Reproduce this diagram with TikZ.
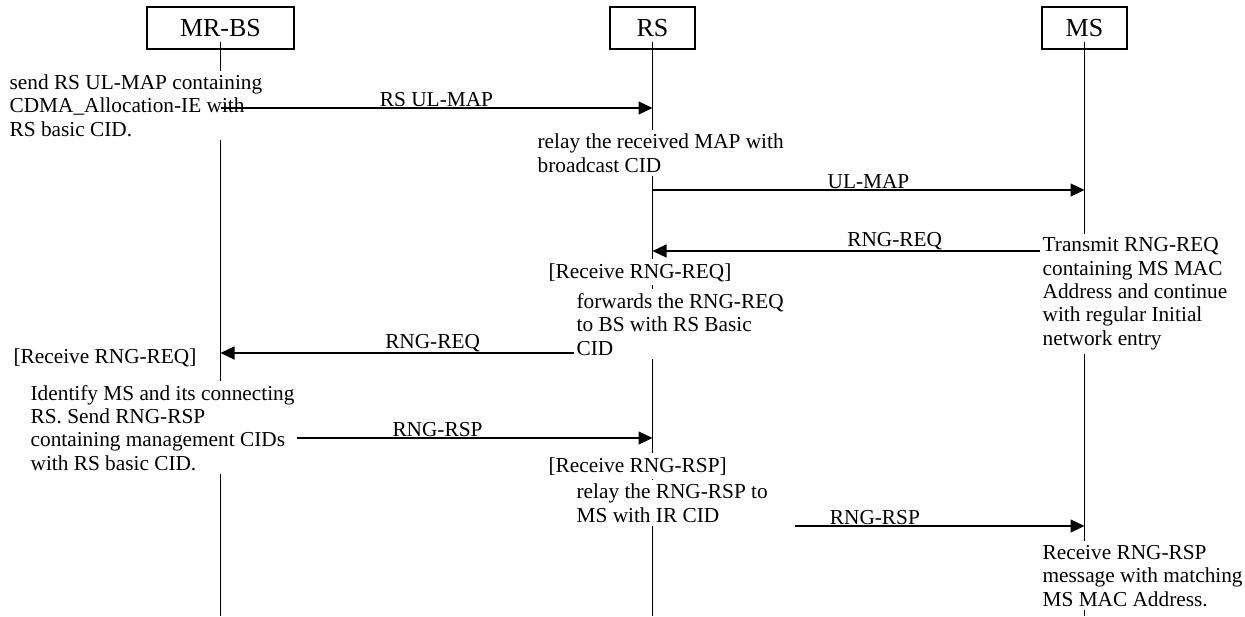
\documentclass[tikz,border=0pt]{standalone}
\usepackage{fontspec}
\setmainfont{Liberation Serif}
\usetikzlibrary{arrows.meta}
\usetikzlibrary{positioning}

\begin{document}
\begin{tikzpicture}[x=1pt,y=-1pt,line width=1.3pt,
  actor node/.style={draw,minimum width=85pt,minimum height=42pt,inner sep=0pt,font=\fontsize{26}{30}\selectfont},
  note node/.style={fill=white,align=left,anchor=base west,inner xsep=2pt,inner ysep=4pt,font=\fontsize{21.3}{23.3}\selectfont},
  msg/.style={-{Triangle[length=14pt,width=13pt]}},
  msg label/.style={above,inner sep=0.5pt,font=\fontsize{21.3}{23.3}\selectfont}]

  \useasboundingbox (0,0) rectangle (1245,616);

  % entities
  \node[actor node,minimum width=147pt] (bs) at (220.5,28) {MR-BS};
  \node[actor node] (rs) at (652.5,28) {RS};
  \node[actor node] (ms) at (1084.5,28) {MS};

  % life lines
  \foreach \a in {bs,rs,ms}
    \draw ([yshift=8pt]\a.south) -- (\a |- 0,616);

  % notes on the life lines (placed at the baseline of their last line)
  \node[note node] (send) at (7,136) {send RS UL-MAP containing\\CDMA\_Allocation-IE with\\RS basic CID.};
  \node[note node] (relay) at (535,172) {relay the received MAP with\\broadcast CID};
  \node[note node] (trans) at (1040,345) {Transmit RNG-REQ\\containing MS MAC\\Address and continue\\with regular Initial\\network entry};
  \node[note node] (rcvreq) at (546,278) {[Receive RNG-REQ]};
  \node[note node] (fwd) at (574,355) {forwards the RNG-REQ\\to BS with RS Basic\\CID};
  \node[note node] (bsreq) at (11,363) {[Receive RNG-REQ]};
  \node[note node] (ident) at (28,470) {Identify MS and its connecting\\RS. Send RNG-RSP\\containing management CIDs\\with RS basic CID.};
  \node[note node] (rcvrsp) at (546,472) {[Receive RNG-RSP]};
  \node[note node] (relay2) at (574,522) {relay the RNG-RSP to\\MS with IR CID};
  \node[note node] (msrsp) at (1040,606) {Receive RNG-RSP\\message with matching\\MS MAC Address.};

  % messages
  \draw[msg] (bs |- 0,108) -- node[msg label] {RS UL-MAP} (rs |- 0,108);
  \draw[msg] (rs |- 0,190) -- node[msg label] {UL-MAP} (ms |- 0,190);
  \draw[msg] (trans.west |- 0,251) -- node[msg label,pos=.375] {RNG-REQ} (rs |- 0,251);
  \draw[msg] (fwd.west |- 0,353) -- node[msg label,pos=.4] {RNG-REQ} (bs |- 0,353);
  \draw[msg] (ident.east |- 0,438) -- node[msg label,pos=.395] {RNG-RSP} (rs |- 0,438);
  \draw[msg] ([xshift=25pt]relay2.east |- 0,526) -- node[msg label,pos=.275] {RNG-RSP} (ms |- 0,526);

\end{tikzpicture}
\end{document}
